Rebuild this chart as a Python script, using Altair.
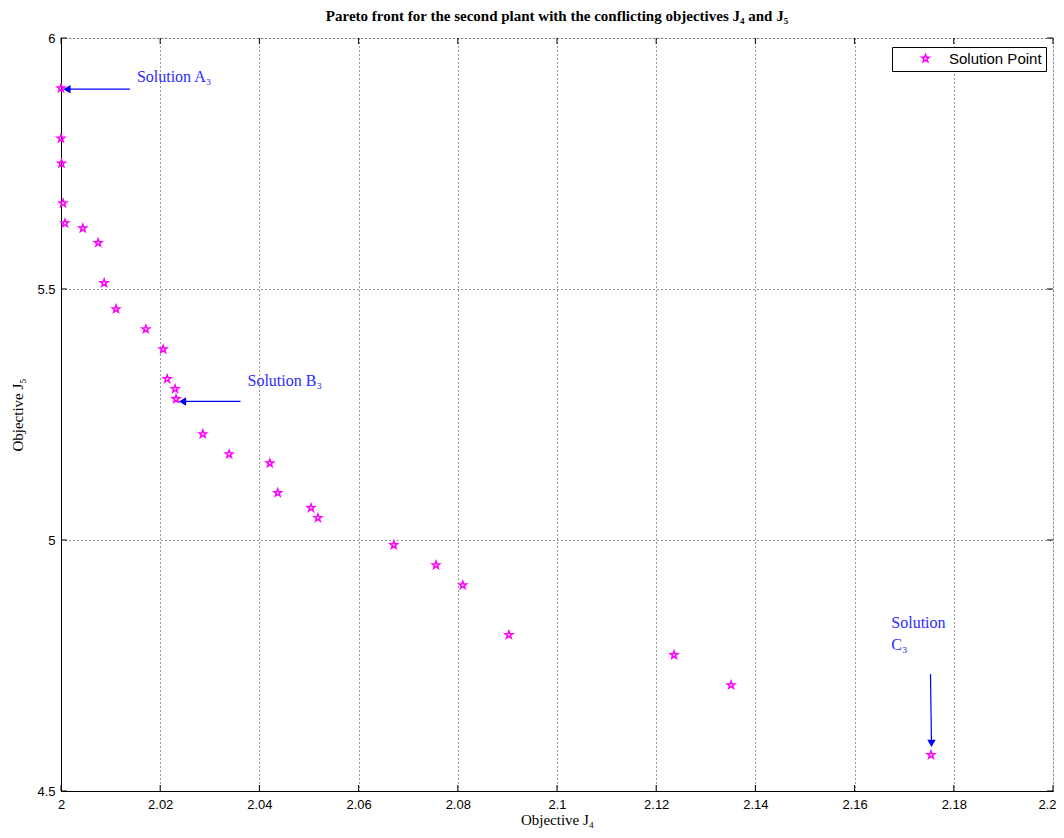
import altair as alt
import pandas as pd

# Pareto points (Objective J4, Objective J5)
j4 = [2.0000, 2.0000, 2.0001, 2.0004, 2.0008, 2.0044, 2.0075, 2.0087, 2.0111,
      2.0171, 2.0206, 2.0214, 2.0230, 2.0232, 2.0286, 2.0339, 2.0421, 2.0437,
      2.0504, 2.0518, 2.0671, 2.0756, 2.0810, 2.0903, 2.1236, 2.1351, 2.1754]
j5 = [5.900, 5.800, 5.750, 5.671, 5.631, 5.621, 5.592, 5.512, 5.460,
      5.420, 5.380, 5.321, 5.301, 5.281, 5.211, 5.171, 5.153, 5.094,
      5.064, 5.044, 4.990, 4.950, 4.910, 4.811, 4.771, 4.711, 4.572]

x_ticks = [2.0, 2.02, 2.04, 2.06, 2.08, 2.1, 2.12, 2.14, 2.16, 2.18, 2.2]
y_ticks = [4.5, 5.0, 5.5, 6.0]

# Annotation arrows: start/end points in data units
arrow_id = ["A", "A", "B", "B", "C", "C"]
arrow_x = [2.0139, 2.0012, 2.0362, 2.0245, 2.1753, 2.1755]
arrow_y = [5.898, 5.898, 5.276, 5.276, 4.733, 4.595]

label_text = ["Solution A₃", "Solution B₃", "Solution", "C₃"]
label_x = [2.0153, 2.0376, 2.1674, 2.1674]
label_y = [5.922, 5.316, 4.834, 4.790]

W, H = 992, 753

STAR = ("M0,-1L0.235,-0.324L0.951,-0.309L0.380,0.124L0.588,0.809L0,0.4"
        "L-0.588,0.809L-0.380,0.124L-0.951,-0.309L-0.235,-0.324Z")

df = pd.DataFrame({"x": j4, "y": j5, "series": ["Solution Point"] * len(j4)})
arrows = pd.DataFrame({"id": arrow_id, "x": arrow_x, "y": arrow_y})
heads_l = pd.DataFrame({"x": arrow_x[1:4:2], "y": arrow_y[1:4:2]})
heads_d = pd.DataFrame({"x": arrow_x[5:6], "y": arrow_y[5:6]})
labels = pd.DataFrame({"t": label_text, "x": label_x, "y": label_y})
xt = pd.DataFrame({"x": x_ticks})
yt = pd.DataFrame({"y": y_ticks})

xs = alt.Scale(domain=[2.0, 2.2], nice=False, zero=False)
ys = alt.Scale(domain=[4.5, 6.0], nice=False, zero=False)

x_axis = alt.Axis(
    values=x_ticks, format="~g", title="Objective J₄", grid=True,
    gridDash=[1, 3], gridColor="#333333", ticks=False,
    labelFont="Liberation Sans", labelFontSize=13, labelColor="#000",
    labelPadding=7, titleFont="Liberation Serif", titleFontSize=15,
    titleFontWeight="normal", titleColor="#000", titlePadding=1,
    domainColor="#000", labelFlush=False,
    labelOffset={"condition": {"test": "datum.value >= 2.19", "value": -6}, "value": 0})
y_axis = alt.Axis(
    values=y_ticks, format="~g", title="Objective J₅", grid=True,
    gridDash=[1, 3], gridColor="#333333", ticks=False,
    labelFont="Liberation Sans", labelFontSize=13, labelColor="#000",
    labelPadding=6, titleFont="Liberation Serif", titleFontSize=15,
    titleFontWeight="normal", titleColor="#000", titlePadding=11,
    domainColor="#000", labelFlush=False)

X = alt.X("x:Q", scale=xs, axis=x_axis)
Y = alt.Y("y:Q", scale=ys, axis=y_axis)

blue = "#2b2bff"

points = alt.Chart(df).mark_point(shape=STAR, filled=False, strokeWidth=1.5, size=62, opacity=1).encode(
    x=X, y=Y,
    color=alt.Color("series:N", scale=alt.Scale(range=["#ff00ff"]), legend=alt.Legend(
        title=None, orient="none", legendX=831, legendY=9,
        fillColor="white", strokeColor="#000", padding=4,
        labelFont="Liberation Sans", labelFontSize=15, labelColor="#000",
        symbolType=STAR, symbolSize=62, symbolStrokeWidth=1.5,
        symbolOffset=22, labelOffset=16)),
)

arrow_lines = alt.Chart(arrows).mark_line(color="#0000ff", strokeWidth=1.2).encode(
    x=X, y=Y, detail="id:N")

heads_left = alt.Chart(heads_l).mark_point(shape="triangle-left", filled=True, color="#0000ff",
                                           size=70, opacity=1).encode(x=X, y=Y)
heads_down = alt.Chart(heads_d).mark_point(shape="triangle-down", filled=True, color="#0000ff",
                                           size=70, opacity=1).encode(x=X, y=Y)

texts = alt.Chart(labels).mark_text(align="left", baseline="middle", font="Liberation Serif",
                                    fontSize=16, color=blue).encode(x=X, y=Y, text="t:N")

tick_b = alt.Chart(xt).mark_rule(color="#000").encode(
    x=X, y=alt.value(H), y2=alt.value(H - 6))
tick_t = alt.Chart(xt).mark_rule(color="#000").encode(
    x=X, y=alt.value(0), y2=alt.value(6))
tick_l = alt.Chart(yt).mark_rule(color="#000").encode(
    y=Y, x=alt.value(0), x2=alt.value(6))
tick_r = alt.Chart(yt).mark_rule(color="#000").encode(
    y=Y, x=alt.value(W), x2=alt.value(W - 6))

chart = alt.layer(points, arrow_lines, heads_left, heads_down, texts,
                  tick_b, tick_t, tick_l, tick_r).properties(
    width=W, height=H,
    title=alt.TitleParams("Pareto front for the second plant with the conflicting objectives J₄ and J₅",
                          font="Liberation Serif", fontSize=15, fontWeight="bold",
                          color="#000", offset=8, anchor="middle"),
    autosize=alt.AutoSizeParams(type="none"),
    padding={"left": 53, "top": 30, "right": 3, "bottom": 39},
).configure_view(stroke="#000", strokeWidth=1).configure(background="white")

chart.save("out.html", embed_options={"renderer": "svg", "actions": False})
